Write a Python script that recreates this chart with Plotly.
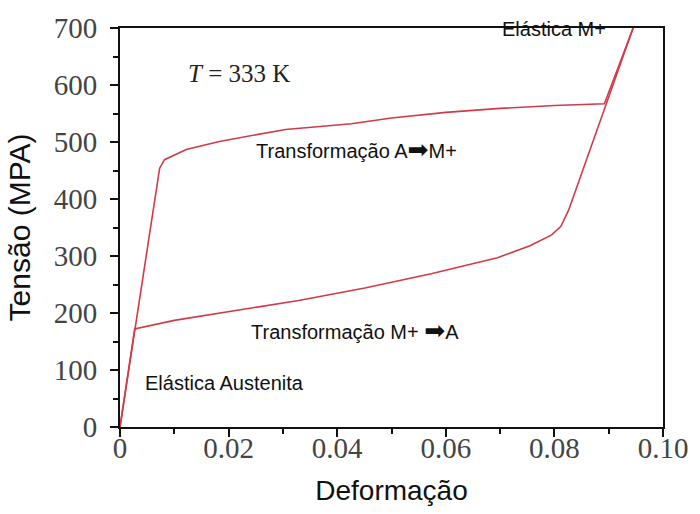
import plotly.graph_objects as go

# Superelastic stress-strain loop of the shape memory alloy at T = 333 K
# Loading branch: elastic austenite, then A -> M+ plateau, then elastic M+
load_strain = [0.0, 0.0073, 0.0082, 0.0122, 0.0183, 0.0305, 0.0426, 0.05, 0.06, 0.07, 0.08, 0.0892, 0.0945]
load_stress = [0.0, 454, 469, 487, 501, 522, 532, 542, 552, 559, 564, 567, 700]

# Unloading branch: elastic M+, then M+ -> A plateau, then elastic austenite
unload_strain = [0.0945, 0.0826, 0.0812, 0.0795, 0.0755, 0.0695, 0.0573, 0.0451, 0.0329, 0.02, 0.01, 0.0027, 0.0]
unload_stress = [700, 380, 352, 337, 318, 297, 269, 244, 222, 203, 187, 172, 0.0]

x_ticks = [0, 0.02, 0.04, 0.06, 0.08, 0.10]
x_tick_text = ["0", "0.02", "0.04", "0.06", "0.08", "0.10"]
y_ticks = [0, 100, 200, 300, 400, 500, 600, 700]

RED = "#d23a48"
SERIF = "Liberation Serif, Times New Roman, serif"
SANS = "Liberation Sans, Arial, sans-serif"
ARROW = '<span style="font-family:DejaVu Sans;font-size:25px">➡</span>'

fig = go.Figure()
fig.add_trace(go.Scatter(x=load_strain, y=load_stress, mode="lines",
                         line=dict(color=RED, width=1.6), showlegend=False))
fig.add_trace(go.Scatter(x=unload_strain, y=unload_stress, mode="lines",
                         line=dict(color=RED, width=1.6), showlegend=False))

ann_font = dict(family=SANS, size=20, color="#111")
fig.add_annotation(x=0.0122, y=620, text="<i>T</i> = 333 K", showarrow=False,
                   xanchor="left", font=dict(family=SERIF, size=25, color="#222"))
fig.add_annotation(x=0.0800, y=698, text="Elástica M+", showarrow=False,
                   font=ann_font)
fig.add_annotation(x=0.0247, y=487, text="Transformação A" + ARROW + "M+", showarrow=False,
                   xanchor="left", font=ann_font)
fig.add_annotation(x=0.0238, y=169, text="Transformação M+ " + ARROW + "A", showarrow=False,
                   xanchor="left", font=ann_font)
fig.add_annotation(x=0.0042, y=77, text="Elástica Austenita", showarrow=False,
                   xanchor="left", font=ann_font)

fig.update_xaxes(range=[0, 0.10], tickvals=x_ticks, ticktext=x_tick_text,
                 ticks="outside", ticklen=8, tickwidth=2, tickcolor="#111",
                 minor=dict(dtick=0.01, ticks="outside", ticklen=5, tickwidth=2, tickcolor="#111"),
                 showline=True, linecolor="#111", linewidth=2, mirror=True,
                 showgrid=False, zeroline=False, ticklabelstandoff=-14,
                 tickfont=dict(family=SERIF, size=29, color="#444"),
                 title=dict(text="Deformação", font=dict(family=SANS, size=28, color="#111"),
                            standoff=18))
fig.update_yaxes(range=[0, 700], tickvals=y_ticks,
                 ticks="outside", ticklen=8, tickwidth=2, tickcolor="#111",
                 minor=dict(dtick=50, ticks="outside", ticklen=5, tickwidth=2, tickcolor="#111"),
                 showline=True, linecolor="#111", linewidth=2, mirror=True,
                 showgrid=False, zeroline=False, ticklabelstandoff=7,
                 tickfont=dict(family=SERIF, size=29, color="#444"),
                 title=dict(text="Tensão (MPA)", font=dict(family=SANS, size=30, color="#111"),
                            standoff=14))

fig.update_layout(width=700, height=514, margin=dict(l=120, r=33, t=26, b=87),
                  paper_bgcolor="white", plot_bgcolor="white")

fig.write_html("out.html")
